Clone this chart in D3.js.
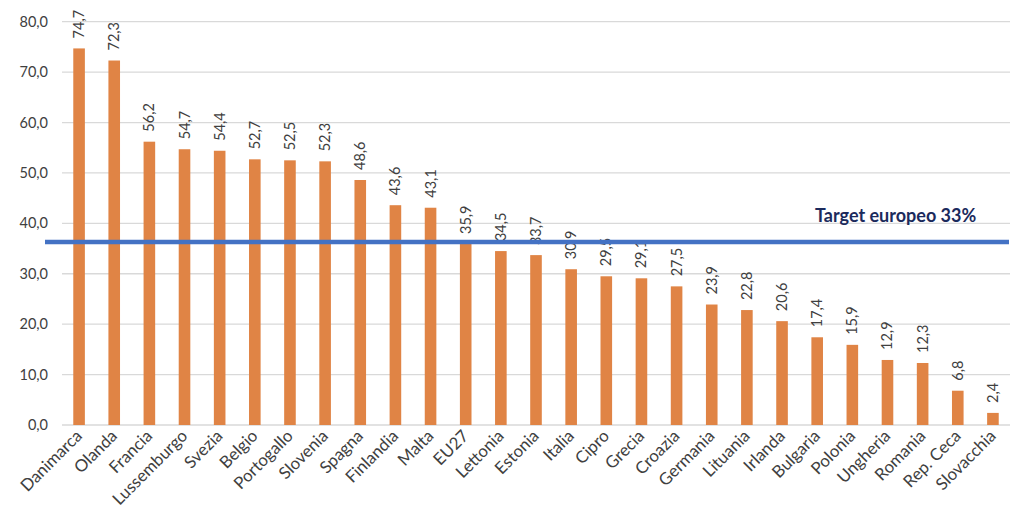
<!DOCTYPE html>
<html><head><meta charset="utf-8">
<script src="https://cdn.jsdelivr.net/npm/d3@7"></script>
<style>body{margin:0;background:#fff}svg{display:block}</style>
</head><body><svg id="c" width="1024" height="517"></svg>
<script>
const categories = ["Danimarca","Olanda","Francia","Lussemburgo","Svezia","Belgio","Portogallo","Slovenia","Spagna","Finlandia","Malta","EU27","Lettonia","Estonia","Italia","Cipro","Grecia","Croazia","Germania","Lituania","Irlanda","Bulgaria","Polonia","Ungheria","Romania","Rep. Ceca","Slovacchia"];
const values = [74.7,72.3,56.2,54.7,54.4,52.7,52.5,52.3,48.6,43.6,43.1,35.9,34.5,33.7,30.9,29.5,29.1,27.5,23.9,22.8,20.6,17.4,15.9,12.9,12.3,6.8,2.4];
const yTicks = [0,10,20,30,40,50,60,70,80];
const targetValue = 36.3; // drawn position of the target line in the picture
const targetLabel = "Target europeo 33%";

const svg = d3.select("#c");
const x = d3.scaleBand().domain(categories).range([61.5, 1010.5]).paddingInner(0.67).paddingOuter(0.335);
const y = d3.scaleLinear().domain([0, 80]).range([425, 21.7]);
const fmt = v => v.toFixed(1).replace(".", ",");
const FONT = "Lato, sans-serif";

// gridlines
svg.append("g").selectAll("line").data(yTicks).join("line")
  .attr("x1", 62).attr("x2", 1010)
  .attr("y1", d => y(d)).attr("y2", d => y(d))
  .attr("stroke", "#d9d9d9").attr("stroke-width", 1.3);

// y labels
svg.append("g").selectAll("text").data(yTicks).join("text")
  .attr("x", 48).attr("y", d => y(d)).attr("dy", "0.35em")
  .attr("text-anchor", "end")
  .attr("font-family", FONT).attr("font-size", 14.5)
  .attr("fill", "#404040").text(d => fmt(d));

// bars
svg.append("g").selectAll("rect").data(values).join("rect")
  .attr("x", (d, i) => x(categories[i])).attr("width", x.bandwidth())
  .attr("y", d => y(d)).attr("height", d => y(0) - y(d))
  .attr("fill", "#e08445");

// value labels
svg.append("g").selectAll("text").data(values).join("text")
  .attr("transform", (d, i) => `translate(${x(categories[i]) + x.bandwidth() / 2 + 5},${y(d) - 10}) rotate(-90)`)
  .attr("text-anchor", "start")
  .attr("font-family", FONT).attr("font-size", 14.5)
  .attr("fill", "#404040").text(d => fmt(d));

// category labels
svg.append("g").selectAll("text").data(categories).join("text")
  .attr("transform", d => `translate(${x(d) + x.bandwidth() / 2 + 4},${437}) rotate(-45)`)
  .attr("text-anchor", "end")
  .attr("font-family", FONT).attr("font-size", 16.8)
  .attr("fill", "#404040").text(d => d);

// target line
svg.append("line")
  .attr("x1", 45).attr("x2", 1009)
  .attr("y1", y(targetValue)).attr("y2", y(targetValue))
  .attr("stroke", "#4472c4").attr("stroke-width", 4.5);

svg.append("text")
  .attr("x", 815).attr("y", 222)
  .attr("font-family", FONT).attr("font-weight", "bold").attr("font-size", 18)
  .attr("fill", "#1b2a5c").text(targetLabel);
</script></body></html>
